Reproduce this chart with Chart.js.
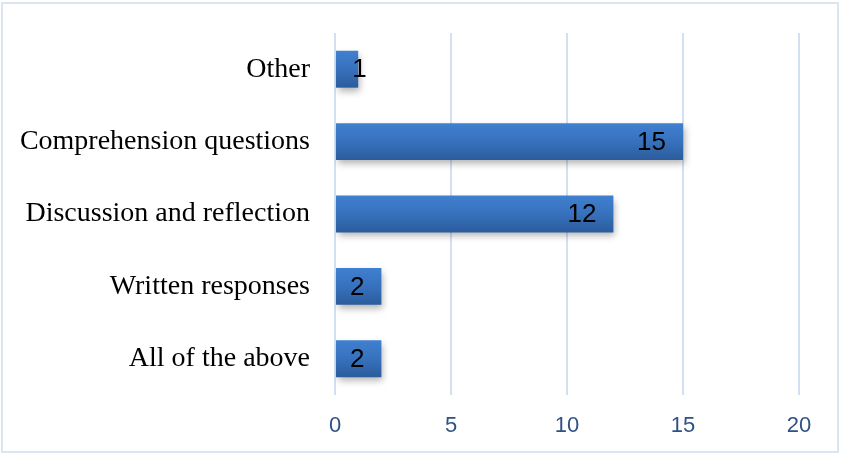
<!DOCTYPE html>
<html>
<head>
<meta charset="utf-8">
<script src="https://cdn.jsdelivr.net/npm/chart.js@4"></script>
<style>
  html, body { margin: 0; padding: 0; background: #fff; }
  #wrap {
    position: absolute; left: 1px; top: 2px;
    width: 838px; height: 451px;
    border: 2px solid #dbe5f1;
    box-sizing: border-box;
  }
  canvas { display: block; }
</style>
</head>
<body>
<div id="wrap"><canvas id="chart"></canvas></div>
<script>
// categories, top to bottom
const categories = ['Other', 'Comprehension questions', 'Discussion and reflection', 'Written responses', 'All of the above'];
const counts = [1, 15, 12, 2, 2];
const xTicks = [0, 5, 10, 15, 20];
const barPct = 0.51;

// bar fill: light blue at the top, darker toward the bottom
function barFill(context) {
    const chart = context.chart;
    const area = chart.chartArea;
    const yScale = chart.scales.y;
    if (!area || !yScale || context.dataIndex === undefined) return '#3670bb';
    const yc = yScale.getPixelForValue(context.dataIndex);
    const half = (area.bottom - area.top) / categories.length * barPct / 2;
    if (!Number.isFinite(yc) || !Number.isFinite(half)) return '#3670bb';
    const g = chart.ctx.createLinearGradient(0, yc - half, 0, yc + half);
    g.addColorStop(0, '#4080d0');
    g.addColorStop(0.5, '#3771bd');
    g.addColorStop(1, '#2b5c9c');
    return g;
}

// soft shadow under the bars
const barShadow = {
    id: 'barShadow',
    beforeDatasetsDraw(chart) {
        const ctx = chart.ctx;
        ctx.save();
        ctx.shadowColor = 'rgba(0,0,0,0.3)';
        ctx.shadowBlur = 7;
        ctx.shadowOffsetX = 2;
        ctx.shadowOffsetY = 4;
    },
    afterDatasetsDraw(chart) {
        chart.ctx.restore();
    }
};

// value labels at the inside end of each bar
const valueLabels = {
    id: 'valueLabels',
    afterDatasetsDraw(chart) {
        const ctx = chart.ctx;
        const meta = chart.getDatasetMeta(0);
        ctx.save();
        ctx.font = '26px "Liberation Sans"';
        ctx.fillStyle = '#000';
        ctx.textBaseline = 'middle';
        meta.data.forEach((bar, i) => {
            const text = String(counts[i]);
            const w = ctx.measureText(text).width;
            let x = bar.x - 17 - w;
            if (x < bar.base + 4) x = (bar.base + bar.x) / 2 - w / 2;
            if (counts[i] === 1) x = bar.x - 6;
            ctx.fillText(text, x, bar.y + 1);
        });
        ctx.restore();
    }
};

new Chart(document.getElementById('chart'), {
    type: 'bar',
    data: {
        labels: categories,
        datasets: [{
            data: counts,
            backgroundColor: barFill,
            borderWidth: 0,
            barPercentage: barPct,
            categoryPercentage: 1
        }]
    },
    options: {
        indexAxis: 'y',
        responsive: true,
        maintainAspectRatio: false,
        animation: false,
        layout: { padding: { top: 29, right: 38, bottom: 0, left: 0 } },
        plugins: {
            legend: { display: false },
            tooltip: { enabled: false }
        },
        scales: {
            x: {
                min: 0,
                max: 20,
                afterBuildTicks: axis => { axis.ticks = xTicks.map(v => ({ value: v })); },
                grid: { color: '#d3e0f2', lineWidth: 2, drawTicks: false },
                border: { display: false },
                ticks: {
                    color: '#2e5286',
                    padding: 18,
                    font: { family: 'Liberation Sans', size: 22 }
                },
                afterFit: axis => { axis.height = 56; }
            },
            y: {
                grid: { display: false },
                border: { display: false },
                ticks: {
                    color: '#000',
                    padding: 17,
                    font: { family: 'Liberation Serif', size: 28 }
                },
                afterFit: axis => {
                    axis.width = 332;
                    axis.paddingTop = 0;
                    axis.paddingBottom = 0;
                }
            }
        }
    },
    plugins: [barShadow, valueLabels]
});
</script>
</body>
</html>
